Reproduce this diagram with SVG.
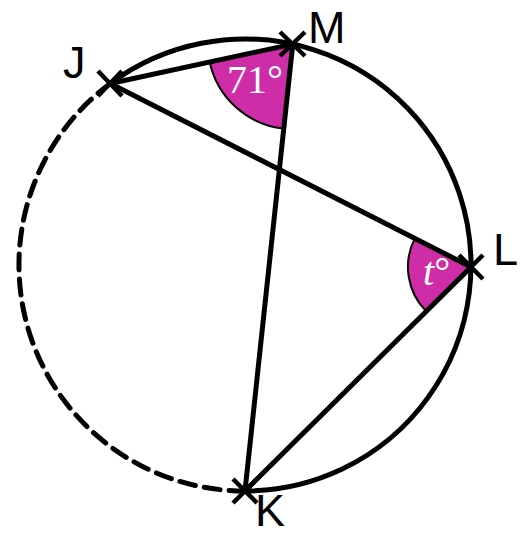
<svg xmlns="http://www.w3.org/2000/svg" width="525" height="537" viewBox="0 0 525 537">
<style>
.ln{stroke:#000;stroke-width:5;fill:none;stroke-linecap:round}
.sec{fill:#CF2DA8;stroke:#000;stroke-width:2}
.x{stroke:#000;stroke-width:4.5;fill:none}
.lbl{font-family:"Liberation Sans",Arial,sans-serif;font-size:45px;fill:#000}
.ang{font-family:"Liberation Serif","Times New Roman",serif;font-size:40px;fill:#fff}
</style>
<rect width="525" height="537" fill="#fff"/>
<g id="angles">
<path class="sec" d="M292.8 44.1 L209.7 62.0 A85 85 0 0 0 283.8 128.6 Z"/>
<path class="sec" d="M471 267 L414.8 238.4 A63 63 0 0 0 426.3 311.4 Z"/>
</g>
<g id="circle">
<path class="ln" d="M110.3 83.5 A226 226 0 1 1 245 491"/>
<path class="ln" d="M245 491 A226 226 0 0 1 110.3 83.5" stroke-dasharray="16 9" stroke-linecap="butt"/>
</g>
<g id="connectors">
<line class="ln" x1="110.3" y1="83.5" x2="292.8" y2="44.1"/>
<line class="ln" x1="110.3" y1="83.5" x2="471" y2="267"/>
<line class="ln" x1="292.8" y1="44.1" x2="245" y2="491"/>
<line class="ln" x1="245" y1="491" x2="471" y2="267"/>
</g>
<g id="J"><path class="x" d="M98 71 L122 96 M122 71 L98 96"/><text class="lbl" x="63" y="78">J</text></g>
<g id="M"><path class="x" d="M280 32 L305 56 M305 32 L280 56"/><text class="lbl" x="308" y="43">M</text></g>
<g id="L"><path class="x" d="M459 255 L483 279 M483 255 L459 279"/><text class="lbl" x="493" y="265">L</text></g>
<g id="K"><path class="x" d="M233 479 L257 503 M257 479 L233 503"/><text class="lbl" x="255" y="526">K</text></g>
<g id="labels">
<text class="ang" x="227" y="93">71°</text>
<text class="ang" x="423" y="285"><tspan font-style="italic">t</tspan>°</text>
</g>
</svg>
